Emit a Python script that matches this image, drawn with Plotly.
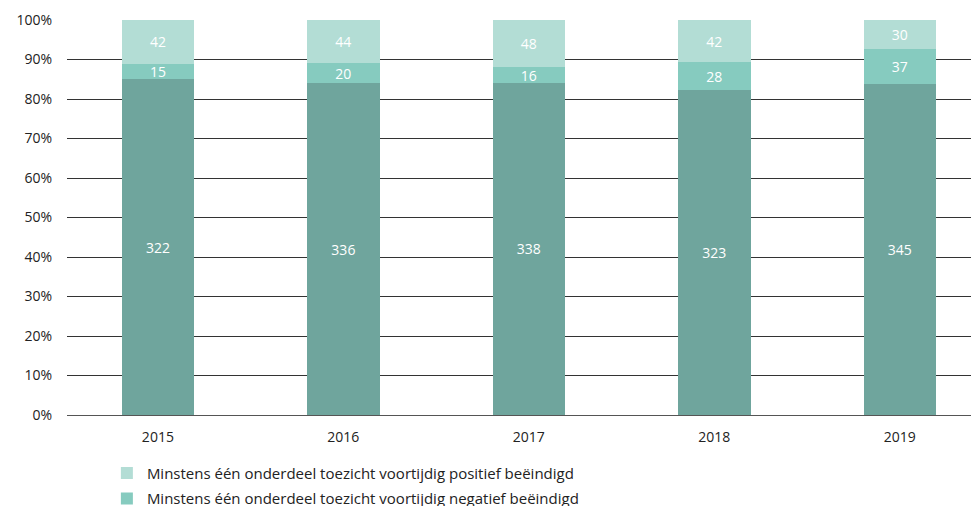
import plotly.graph_objects as go

years = ["2015", "2016", "2017", "2018", "2019"]
bottom_vals = [322, 336, 338, 323, 345]
negatief_vals = [15, 20, 16, 28, 37]
positief_vals = [42, 44, 48, 42, 30]

name_bottom = "Toezicht niet voortijdig beëindigd"
name_neg = "Minstens één onderdeel toezicht voortijdig negatief beëindigd"
name_pos = "Minstens één onderdeel toezicht voortijdig positief beëindigd"

c_bottom = "#6fa59d"
c_neg = "#86cbbf"
c_pos = "#b3ddd5"

font_family = "Open Sans, Lato, sans-serif"

fig = go.Figure()
for vals, name, col, show, rank, grp in [
    (bottom_vals, name_bottom, c_bottom, False, 3, "g3"),
    (negatief_vals, name_neg, c_neg, True, 2, "g2"),
    (positief_vals, name_pos, c_pos, True, 1, "g1"),
]:
    fig.add_trace(go.Bar(
        x=years, y=vals, name=name,
        marker=dict(color=col, line=dict(width=0)),
        width=0.39,
        text=[str(v) for v in vals],
        textposition="inside",
        insidetextanchor="middle",
        textangle=0,
        textfont=dict(color="white", size=14, family=font_family),
        showlegend=show,
        legendrank=rank,
        legendgroup=grp,
    ))

fig.update_layout(
    barmode="stack",
    barnorm="percent",
    width=979, height=506,
    margin=dict(l=59, r=0, t=12, b=99, autoexpand=False),
    plot_bgcolor="white",
    paper_bgcolor="white",
    font=dict(family=font_family, size=14, color="#222"),
    uniformtext=dict(mode="show", minsize=12),
    xaxis=dict(
        range=[-0.49, 4.47],
        showgrid=False,
        showline=False,
        ticks="",
        automargin=False,
        ticklabelstandoff=12,
        tickfont=dict(size=14, color="#222"),
    ),
    yaxis=dict(
        range=[0, 100],
        dtick=10,
        ticksuffix="%",
        showgrid=True,
        gridcolor="#333",
        gridwidth=1,
        zeroline=True,
        zerolinecolor="#555",
        zerolinewidth=1,
        showline=False,
        ticks="",
        automargin=False,
        ticklabelstandoff=14,
        tickfont=dict(size=14, color="#222"),
    ),
    legend=dict(
        orientation="v",
        xref="container", yref="container",
        x=0.101, xanchor="left",
        y=0.113, yanchor="top",
        traceorder="grouped",
        tracegroupgap=3,
        font=dict(size=15, color="#222"),
        bgcolor="rgba(0,0,0,0)",
    ),
)

fig.write_html("out.html")
